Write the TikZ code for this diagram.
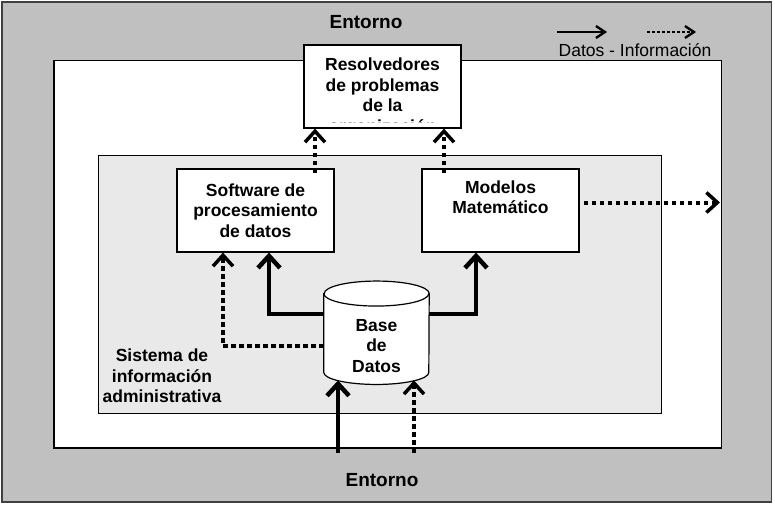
\documentclass[tikz,border=0pt]{standalone}
\usepackage{fontspec}
\setmainfont{Liberation Sans}
\usetikzlibrary{arrows.meta,calc}
\definecolor{envgray}{HTML}{C0C0C0}
\definecolor{siagray}{HTML}{E9E9E9}
\begin{document}
\begin{tikzpicture}[x=1pt,y=-1pt,
  boxtxt/.style={font=\bfseries\fontsize{17.5}{20.5}\selectfont, align=center},
  procbox/.style={draw=black, line width=1.2pt, fill=white, minimum width=157pt, minimum height=83pt, inner sep=0pt, boxtxt},
  dataline/.style={line width=4.5pt, -{Straight Barb[length=12pt,width=22pt]}},
  infoline/.style={line width=4pt, dash pattern=on 4.5pt off 3.5pt, -{Straight Barb[length=11pt,width=20pt,line width=3.5pt]}},
  legsolid/.style={line width=2.3pt, -{Straight Barb[length=9pt,width=12pt]}},
  legdot/.style={line width=2.3pt, dash pattern=on 2.5pt off 2.5pt, -{Straight Barb[length=9pt,width=12pt,line width=2.3pt]}}]
\useasboundingbox (0,0) rectangle (775,504);
% environment
\draw[fill=envgray, draw=black!75, line width=1.5pt] (2,2) rectangle (771.5,502);
\draw[fill=white, draw=black, line width=1.2pt] (54,60.5) rectangle (721.5,448);
\draw[fill=siagray, draw=black, line width=1pt] (98,155.5) rectangle (661,413);
\node[font=\bfseries\fontsize{19}{22}\selectfont] (envtop) at (366,22) {Entorno};
\node[font=\bfseries\fontsize{19}{22}\selectfont] (envbot) at (382,480) {Entorno};
% legend
\coordinate (lsa) at (557,32);
\coordinate (lsb) at (607,32);
\coordinate (lda) at (647,32);
\coordinate (ldb) at (696,32);
\draw[legsolid] (lsa) -- (lsb);
\draw[legdot] (lda) -- (ldb);
\node[font=\fontsize{17.5}{20}\selectfont] (legtext) at (635,50) {Datos - Información};
% boxes
\node[procbox] (res) at (382.5,86.5) {};
\begin{scope}
\clip (299,45) rectangle (466,122.5);
\node[boxtxt] (restext) at (382.5,97) {Resolvedores\\de problemas\\de la\\organización};
\end{scope}
\node[procbox] (sw) at (255.5,210.5) {Software de\\procesamiento\\de datos};
\node[procbox] (mm) at (500.5,210.5) {Modelos\\Matemático\\\strut};
\node[boxtxt] (sia) at (162,376) {Sistema de\\información\\administrativa};
% database cylinder
\node[minimum width=105pt, minimum height=78.5pt, inner sep=0pt] (db) at (376.5,333) {};
\draw[fill=white, line width=1.2pt] (db.north west) -- (db.south west)
  arc[start angle=180, end angle=360, x radius=52.5pt, y radius=12pt] -- (db.north east)
  arc[start angle=0, end angle=180, x radius=52.5pt, y radius=12.5pt] -- cycle;
\draw[line width=1.2pt] (db.north west) arc[start angle=180, end angle=360, x radius=52.5pt, y radius=12.5pt];
\node[boxtxt] (dbtext) at (376.5,346) {Base\\de\\Datos};
% connectors
\draw[dataline] ($(db.west)+(0,-19)$) -| ($(sw.south)+(13.5,0)$);
\draw[dataline] ($(db.east)+(0,-19)$) -| ($(mm.south)+(-24.5,0)$);
\draw[infoline] ($(db.west)+(0,13)$) -| ($(sw.south)+(-32.5,0)$);
\coordinate (s1) at ($(sw.north)+(59.5,5)$);
\draw[infoline] (s1) -- (s1 |- res.south);
\coordinate (m1) at ($(mm.north)+(-56.5,5)$);
\draw[infoline] (m1) -- (m1 |- res.south);
\coordinate (m3) at ($(mm.east)+(4,-8)$);
\coordinate (outR) at (720,202.5);
\draw[infoline] (m3) -- (m3 -| outR);
\coordinate (inA) at (338,452.5);
\coordinate (tipA) at ($(db.south)+(-38.5,8)$);
\draw[dataline] (inA) -- (tipA);
\coordinate (inB) at (414,452.5);
\coordinate (tipB) at ($(db.south)+(37.5,8)$);
\draw[infoline] (inB) -- (tipB);
\end{tikzpicture}
\end{document}
